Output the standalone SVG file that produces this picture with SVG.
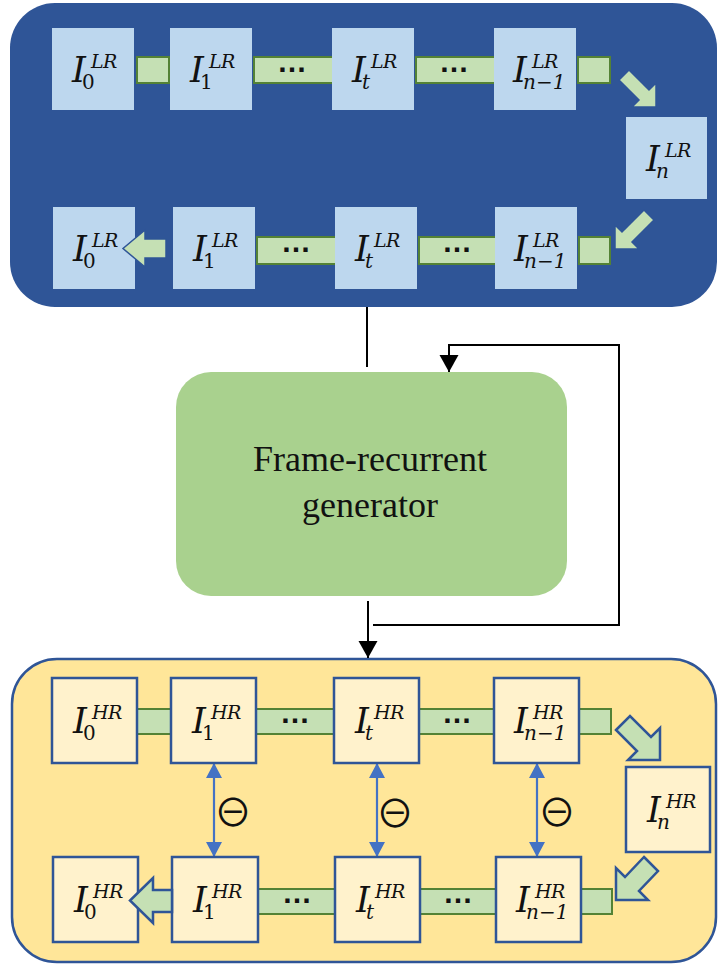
<svg xmlns="http://www.w3.org/2000/svg" width="718" height="965" viewBox="0 0 718 965">
<style>
.lrbox{fill:#BDD7EE;}
.hrbox{fill:#FFF2CC;stroke:#2F5597;stroke-width:2.5;}
.bar{fill:#C5E0B4;stroke:#548235;stroke-width:2;}
.barr{fill:#C5E0B4;stroke:#2F5597;stroke-width:1.5;stroke-linejoin:miter;}
.harr{fill:#C5E0B4;stroke:#2F5597;stroke-width:2.5;stroke-linejoin:miter;}
.I{font-family:"DejaVu Serif","Liberation Serif",serif;font-style:italic;font-size:35px;fill:#111;}
.sup{font-style:italic;font-size:19px;letter-spacing:-0.5px;}
.sub{font-style:normal;font-size:20px;}
.subi{font-style:italic;font-size:20px;}
.dots{font-family:"Liberation Sans",Arial,sans-serif;font-weight:bold;font-size:30px;fill:#111;text-anchor:middle;}
.blk{stroke:#000;stroke-width:2;fill:none;}
.blue{stroke:#4472C4;stroke-width:2.2;fill:none;}
.om{font-family:"Noto Sans CJK JP","DejaVu Sans",sans-serif;font-size:38px;fill:#111;text-anchor:middle;}
.gen{font-family:"Liberation Serif","Times New Roman",serif;font-size:36px;fill:#111;text-anchor:middle;}
</style>
<defs>
<marker id="ak" markerUnits="userSpaceOnUse" markerWidth="20" markerHeight="20" viewBox="0 0 20 20" refX="18" refY="10" orient="auto-start-reverse">
<path d="M1,0.5 L18,10 L1,19.5 Z" fill="#000"/>
</marker>
<marker id="ab" markerUnits="userSpaceOnUse" markerWidth="18" markerHeight="18" viewBox="0 0 18 18" refX="16" refY="9" orient="auto-start-reverse">
<path d="M1,1 L16,9 L1,17 Z" fill="#4472C4"/>
</marker>
</defs>

<g id="lr-panel"><rect x="10" y="3" width="707" height="304" rx="45" fill="#2F5597"/></g>
<g id="hr-panel"><rect x="12" y="659" width="704" height="303" rx="45" fill="#FFE699" stroke="#2F5597" stroke-width="2.5"/></g>

<g id="connectors">
<rect class="bar" x="137" y="57" width="32" height="26"/>
<rect class="bar" x="254" y="57" width="79" height="26"/>
<rect class="bar" x="416" y="57" width="79" height="26"/>
<rect class="bar" x="578" y="57" width="32" height="26"/>
<rect class="bar" x="257" y="237" width="79" height="27"/>
<rect class="bar" x="419" y="237" width="78" height="27"/>
<rect class="bar" x="579" y="237" width="31" height="27"/>
<rect class="bar" x="137" y="709" width="35" height="25"/>
<rect class="bar" x="256" y="709" width="79" height="25"/>
<rect class="bar" x="419" y="709" width="76" height="25"/>
<rect class="bar" x="579" y="709" width="32" height="25"/>
<rect class="bar" x="258" y="889" width="78" height="25"/>
<rect class="bar" x="420" y="889" width="77" height="25"/>
<rect class="bar" x="581" y="889" width="31" height="25"/>
<line class="blk" x1="367" y1="307" x2="367" y2="367"/>
<line class="blk" x1="368" y1="601" x2="368" y2="658" marker-end="url(#ak)"/>
<polyline class="blk" points="373,625 619,625 619,345 449,345 449,372" marker-end="url(#ak)"/>
<line class="blue" x1="214" y1="763" x2="214" y2="857" marker-start="url(#ab)" marker-end="url(#ab)"/>
<line class="blue" x1="377" y1="763" x2="377" y2="857" marker-start="url(#ab)" marker-end="url(#ab)"/>
<line class="blue" x1="537" y1="763" x2="537" y2="857" marker-start="url(#ab)" marker-end="url(#ab)"/>
</g>

<g id="lr-0t"><rect class="lrbox" x="52" y="28" width="82" height="82"/><text class="I" x="72" y="82">I<tspan class="sup" x="91" y="68">LR</tspan><tspan class="sub" x="82" y="89">0</tspan></text></g>
<g id="lr-1t"><rect class="lrbox" x="170" y="28" width="82" height="82"/><text class="I" x="190" y="82">I<tspan class="sup" x="209" y="68">LR</tspan><tspan class="sub" x="200" y="89">1</tspan></text></g>
<g id="lr-tt"><rect class="lrbox" x="332" y="28" width="82" height="82"/><text class="I" x="352" y="82">I<tspan class="sup" x="371" y="68">LR</tspan><tspan class="subi" x="362" y="89">t</tspan></text></g>
<g id="lr-n1t"><rect class="lrbox" x="494" y="28" width="82" height="82"/><text class="I" x="513" y="82">I<tspan class="sup" x="532" y="68">LR</tspan><tspan class="subi" x="523" y="89">n−1</tspan></text></g>
<g id="lr-n"><rect class="lrbox" x="626" y="117" width="81" height="82"/><text class="I" x="646" y="171">I<tspan class="sup" x="665" y="157">LR</tspan><tspan class="subi" x="656" y="178">n</tspan></text></g>
<g id="lr-0b"><rect class="lrbox" x="53" y="207" width="82" height="82"/><text class="I" x="73" y="261">I<tspan class="sup" x="92" y="247">LR</tspan><tspan class="sub" x="83" y="268">0</tspan></text></g>
<g id="lr-1b"><rect class="lrbox" x="173" y="207" width="82" height="82"/><text class="I" x="193" y="261">I<tspan class="sup" x="212" y="247">LR</tspan><tspan class="sub" x="203" y="268">1</tspan></text></g>
<g id="lr-tb"><rect class="lrbox" x="335" y="207" width="82" height="82"/><text class="I" x="355" y="261">I<tspan class="sup" x="374" y="247">LR</tspan><tspan class="subi" x="365" y="268">t</tspan></text></g>
<g id="lr-n1b"><rect class="lrbox" x="495" y="207" width="82" height="82"/><text class="I" x="514" y="261">I<tspan class="sup" x="533" y="247">LR</tspan><tspan class="subi" x="524" y="268">n−1</tspan></text></g>

<g id="generator"><rect x="176" y="372" width="391" height="224" rx="35" fill="#A9D18E"/><text class="gen" x="370" y="471">Frame-recurrent</text><text class="gen" x="370" y="517">generator</text></g>

<g id="hr-0t"><rect class="hrbox" x="52" y="678" width="85" height="85"/><text class="I" x="73" y="733">I<tspan class="sup" x="92" y="719">HR</tspan><tspan class="sub" x="83" y="740">0</tspan></text></g>
<g id="hr-1t"><rect class="hrbox" x="171" y="678" width="85" height="85"/><text class="I" x="192" y="733">I<tspan class="sup" x="211" y="719">HR</tspan><tspan class="sub" x="202" y="740">1</tspan></text></g>
<g id="hr-tt"><rect class="hrbox" x="334" y="678" width="85" height="85"/><text class="I" x="355" y="733">I<tspan class="sup" x="374" y="719">HR</tspan><tspan class="subi" x="365" y="740">t</tspan></text></g>
<g id="hr-n1t"><rect class="hrbox" x="494" y="678" width="85" height="85"/><text class="I" x="514" y="733">I<tspan class="sup" x="533" y="719">HR</tspan><tspan class="subi" x="524" y="740">n−1</tspan></text></g>
<g id="hr-n"><rect class="hrbox" x="626" y="767" width="84" height="85"/><text class="I" x="647" y="822">I<tspan class="sup" x="666" y="808">HR</tspan><tspan class="subi" x="657" y="829">n</tspan></text></g>
<g id="hr-0b"><rect class="hrbox" x="53" y="857" width="85" height="85"/><text class="I" x="74" y="912">I<tspan class="sup" x="93" y="898">HR</tspan><tspan class="sub" x="84" y="919">0</tspan></text></g>
<g id="hr-1b"><rect class="hrbox" x="172" y="857" width="86" height="85"/><text class="I" x="193" y="912">I<tspan class="sup" x="212" y="898">HR</tspan><tspan class="sub" x="203" y="919">1</tspan></text></g>
<g id="hr-tb"><rect class="hrbox" x="335" y="857" width="85" height="85"/><text class="I" x="356" y="912">I<tspan class="sup" x="375" y="898">HR</tspan><tspan class="subi" x="366" y="919">t</tspan></text></g>
<g id="hr-n1b"><rect class="hrbox" x="496" y="857" width="85" height="85"/><text class="I" x="516" y="912">I<tspan class="sup" x="535" y="898">HR</tspan><tspan class="subi" x="526" y="919">n−1</tspan></text></g>

<g id="connector-arrows">
<polygon class="barr" points="619,80 629,70 649,90 656,83 656,107 632,107 639,100"/>
<polygon class="barr" points="644,210 654,220 632,242 639,249 615,249 615,225 622,232"/>
<polygon class="barr" points="166,239 145,239 145,230 123,248.5 145,267 145,258 166,258"/>
<polygon class="harr" points="616,730 630,716 651,737 660,728 660,760 628,760 637,751"/>
<polygon class="harr" points="644,857 658,871 639,891 648,900 616,900 616,868 625,877"/>
<polygon class="harr" points="172,890 153,890 153,878 130,900.5 153,923 153,912 172,912"/>
</g>

<g id="labels">
<text class="dots" x="292" y="72">…</text>
<text class="dots" x="454" y="72">…</text>
<text class="dots" x="296" y="252">…</text>
<text class="dots" x="457" y="252">…</text>
<text class="dots" x="295" y="723">…</text>
<text class="dots" x="457" y="723">…</text>
<text class="dots" x="297" y="903">…</text>
<text class="dots" x="458" y="903">…</text>
<text class="om" x="233" y="826">⊖</text>
<text class="om" x="395" y="827">⊖</text>
<text class="om" x="557" y="826">⊖</text>
</g>
</svg>
